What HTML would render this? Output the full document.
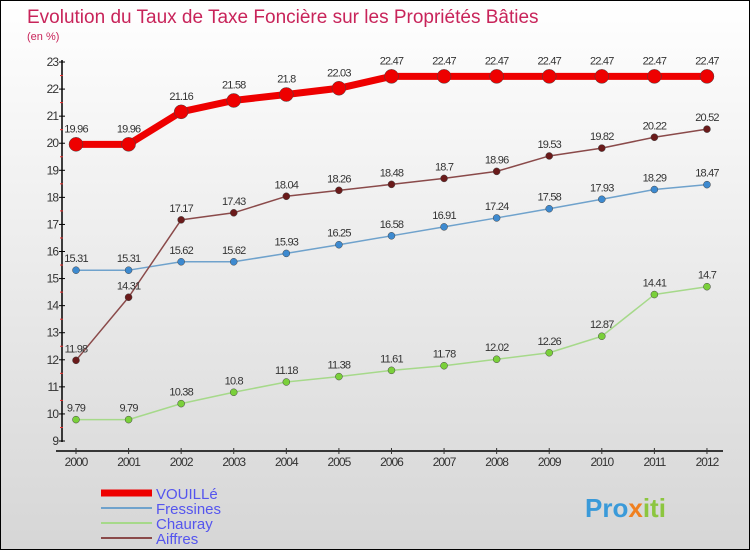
<!DOCTYPE html>
<html><head><meta charset="utf-8"><style>
body{margin:0}
#wrap{width:750px;height:550px;position:relative;box-sizing:border-box;border:1px solid #000;background:linear-gradient(#ffffff,#d6d6d6);font-family:"Liberation Sans",sans-serif;overflow:hidden}
</style></head><body>
<div id="wrap">
<svg id="svg" width="750" height="550" style="position:absolute;left:0;top:0">
<text x="26" y="22" font-size="19" fill="#c8245a">Evolution du Taux de Taxe Foncière sur les Propriétés Bâties</text>
<text x="26" y="39" font-size="11" fill="#c8245a">(en %)</text>
<g id="axes"></g><g id="series"></g><g id="legend"></g>
<text x="584" y="516" font-size="26" font-weight="bold" fill="#3a9ad9">Pro<tspan fill="#f08020">x</tspan><tspan fill="#8cc63f">iti</tspan></text>
</svg>
</div>
<script>
const years=[2000,2001,2002,2003,2004,2005,2006,2007,2008,2009,2010,2011,2012];
const yTicks=[9,10,11,12,13,14,15,16,17,18,19,20,21,22,23];
const seriesNames=["VOUILLé","Fressines","Chauray","Aiffres"];
const vouille=[19.96,19.96,21.16,21.58,21.8,22.03,22.47,22.47,22.47,22.47,22.47,22.47,22.47];
const fressines=[15.31,15.31,15.62,15.62,15.93,16.25,16.58,16.91,17.24,17.58,17.93,18.29,18.47];
const chauray=[9.79,9.79,10.38,10.8,11.18,11.38,11.61,11.78,12.02,12.26,12.87,14.41,14.7];
const aiffres=[11.98,14.31,17.17,17.43,18.04,18.26,18.48,18.7,18.96,19.53,19.82,20.22,20.52];
const NS="http://www.w3.org/2000/svg";
const X=i=>75+i*52.58, Y=v=>440-(v-9)*27.07;
function mk(t,a,p){const e=document.createElementNS(NS,t);for(const k in a)e.setAttribute(k,a[k]);p.appendChild(e);return e;}
const ax=document.getElementById('axes');
let l=mk('line',{x1:61,y1:59,x2:61,y2:441,stroke:'#000','stroke-width':1.5},ax);

l=mk('line',{x1:55,y1:450,x2:722,y2:450,stroke:'#000','stroke-width':1.5},ax);

yTicks.forEach(v=>{mk('line',{x1:58,y1:Y(v),x2:64,y2:Y(v),stroke:'#000'},ax);
 if(v<23)mk('line',{x1:59,y1:Y(v+0.5),x2:62,y2:Y(v+0.5),stroke:'#e33'},ax);
 const t=mk('text',{x:57,y:Y(v)+4,'font-size':12,'text-anchor':'end',fill:'#333','letter-spacing':'-1'},ax);t.textContent=v;
 });
years.forEach((y,i)=>{mk('line',{x1:X(i),y1:447,x2:X(i),y2:453,stroke:'#333'},ax);
 const t=mk('text',{x:X(i),y:465,'font-size':12,'text-anchor':'middle',fill:'#333','letter-spacing':'-1'},ax);t.textContent=y;
 });
const sg=document.getElementById('series');
const defs=[[fressines,'#6fa2cc','#3d8ad0',1.5,3.5,'fressines'],[chauray,'#a6d98a','#7ad03a',1.5,3.5,'chauray'],[aiffres,'#8a4a4a','#6a1a1a',1.5,3.5,'aiffres'],[vouille,'#ee0000','#ee0000',7,7,'vouille']];
defs.forEach(([d,c,pc,w,r,n])=>{
 const p=mk('polyline',{points:d.map((v,i)=>X(i)+','+Y(v)).join(' '),fill:'none',stroke:c,'stroke-width':w,'stroke-linejoin':'round'},sg);
 
 d.forEach((v,i)=>{const ci=mk('circle',{cx:X(i),cy:Y(v),r:r,fill:pc,stroke:'#444','stroke-width':0.5},sg);
  
  const t=mk('text',{x:X(i),y:Y(v)-(n=='vouille'?12:8),'font-size':11,'text-anchor':'middle',fill:'#333','letter-spacing':'-0.8'},sg);t.textContent=v;
  });
});
const lg=document.getElementById('legend');
const lc=[['#ee0000',7],['#6fa2cc',2],['#a6d98a',2],['#8a4a4a',2]];
seriesNames.forEach((s,i)=>{const y=492+i*15;
 const li=mk('line',{x1:100,y1:y,x2:151,y2:y,stroke:lc[i][0],'stroke-width':lc[i][1]},lg);
 
 const t=mk('text',{x:155,y:y+6,'font-size':15,fill:'#5555ee'},lg);t.textContent=s;
 });
</script>
</body></html>
